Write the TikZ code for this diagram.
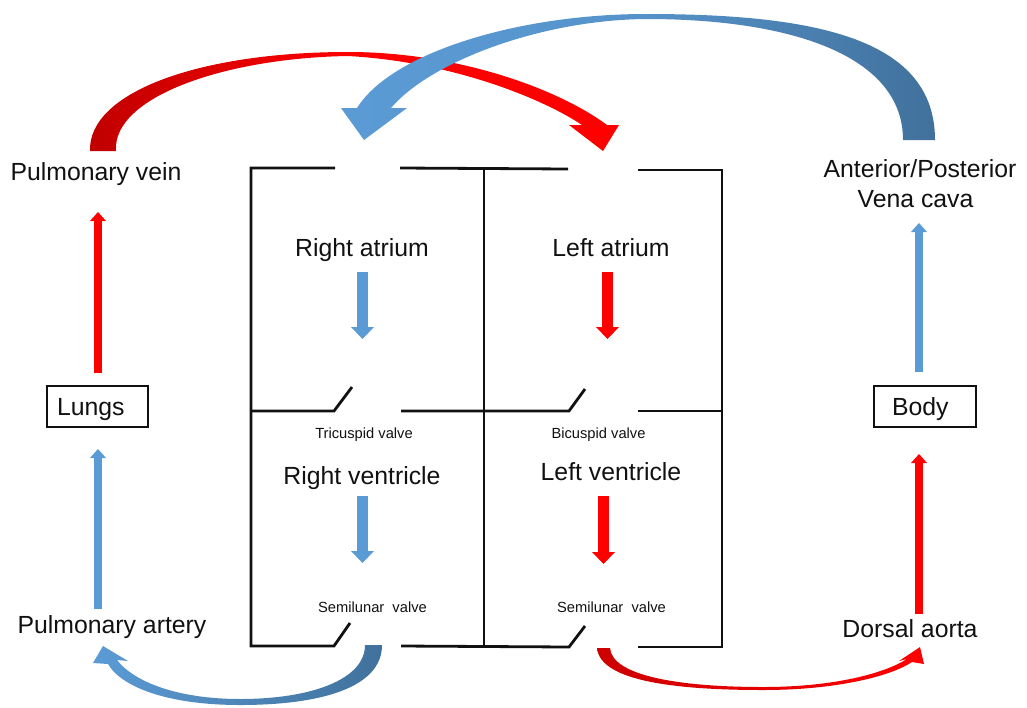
\documentclass[tikz,border=0pt]{standalone}
\usepackage{fontspec}
\setmainfont{Liberation Sans}
\usetikzlibrary{arrows.meta}
\definecolor{bL}{HTML}{5B9BD5}
\definecolor{bD}{HTML}{41719C}
\definecolor{rD}{HTML}{C00000}
\definecolor{rR}{HTML}{FF0000}
\definecolor{ink}{HTML}{111111}
\begin{document}
\begin{tikzpicture}[x=1pt,y=-1pt,
  big/.style={font=\fontsize{24.8}{28}\selectfont, inner sep=0pt, anchor=base, text=ink},
  small/.style={font=\fontsize{14.7}{17}\selectfont, inner sep=0pt, anchor=base, text=ink},
  boxnode/.style={draw=ink, line width=1.2pt, minimum height=41pt, inner ysep=0pt, align=left,
    text height=17.8pt, text depth=0pt, font=\fontsize{24.8}{28}\selectfont, text=ink},
  wall/.style={draw=ink, line width=2.8pt, line join=miter},
  outarrow/.style={line width=8pt, -{Triangle[width=16pt,length=9pt,line width=0pt]}},
  inarrow/.style={line width=11pt, -{Triangle[width=23pt,length=12pt,line width=0pt]}},
]
\useasboundingbox (0,0) rectangle (1027,707);

% ---- texts ----
\node[big] (pvein) at (96,180) {Pulmonary vein};
\node[big] (part) at (112,633) {Pulmonary artery};
\node[big] (ant) at (920,177) {Anterior/Posterior};
\node[big] (vcava) at (915.5,207) {Vena cava};
\node[big] (dorsal) at (910,637) {Dorsal aorta};
\node[boxnode, inner xsep=10pt, text width=81pt] (lungs) at (97.5,406.5) {Lungs};
\node[boxnode, inner xsep=18pt, text width=66pt] (body) at (925,406.5) {Body};
\node[big] (ratrium) at (362,256) {Right atrium};
\node[big] (latrium) at (611,256) {Left atrium};
\node[big] (rvent) at (362,484) {Right ventricle};
\node[big] (lvent) at (611,480) {Left ventricle};
\node[small] (tric) at (364,438) {Tricuspid valve};
\node[small] (bic) at (598.5,438) {Bicuspid valve};
\node[small] (semiL) at (372.5,612) {Semilunar~~valve};
\node[small] (semiR) at (611.5,612) {Semilunar~~valve};

% ---- heart walls ----
\draw[wall] (335,168) -- (251,168) -- (251,646) -- (334,646) -- (350,623);
\draw[wall] (400,168) -- (568,169);
\draw[wall] (484,168) -- (484,647);
\draw[wall] (638,170) -- (722,170) -- (722,647) -- (638,647);
\draw[wall] (401,646) -- (569,647) -- (585,626);
\draw[wall] (251,411) -- (334,411) -- (352,387);
\draw[wall] (401,411) -- (569,411) -- (585,389);
\draw[wall] (638,411) -- (722,411);

% ---- arrow end points ----
\coordinate (lungsTop) at (98,373);
\coordinate (pveinBot) at (98,212);
\coordinate (partTop) at (98,609);
\coordinate (lungsBot) at (98,449);
\coordinate (bodyTop) at (919,372);
\coordinate (vcavaBot) at (919,223);
\coordinate (dorsalTop) at (919,614);
\coordinate (bodyBot) at (919,454);
\coordinate (ra1) at (362.5,272);
\coordinate (ra2) at (362.5,339);
\coordinate (la1) at (607.5,272);
\coordinate (la2) at (607.5,339);
\coordinate (rv1) at (362.5,496);
\coordinate (rv2) at (362.5,563);
\coordinate (lv1) at (603.5,496);
\coordinate (lv2) at (603.5,564);

% ---- straight block arrows ----
\draw[outarrow, draw=rR] (lungsTop) -- (pveinBot);
\draw[outarrow, draw=bL] (partTop) -- (lungsBot);
\draw[outarrow, draw=bL] (bodyTop) -- (vcavaBot);
\draw[outarrow, draw=rR] (dorsalTop) -- (bodyBot);
\draw[inarrow, draw=bL] (ra1) -- (ra2);
\draw[inarrow, draw=rR] (la1) -- (la2);
\draw[inarrow, draw=bL] (rv1) -- (rv2);
\draw[inarrow, draw=rR] (lv1) -- (lv2);

% ---- curved arrows ----
% red: pulmonary vein -> left atrium
\shade[left color=rD, right color=rR, middle color=rR]
 (90,151) .. controls (88,92) and (200,52) .. (348,52)
 .. controls (460,52) and (560,90) .. (607,125)
 -- (619,125) -- (603,151) -- (569,125) -- (582,125)
 .. controls (545,100) and (455,62) .. (348,56)
 .. controls (225,58) and (112,97) .. (116,151) -- cycle;
% blue: vena cava -> right atrium
\shade[left color=bL, right color=bD, middle color=bL!80!bD]
 (935,140) .. controls (935,40) and (820,14) .. (646,14)
 .. controls (520,14) and (392,52) .. (357,108)
 -- (341,108) -- (364,140) -- (407,108) -- (391,108)
 .. controls (430,62) and (540,20) .. (646,19)
 .. controls (790,19) and (903,55) .. (903,140) -- cycle;
% blue: right ventricle -> pulmonary artery
\shade[left color=bL, right color=bD]
 (382,645) .. controls (382,688) and (320,705) .. (240,705)
 .. controls (170,705) and (122,688) .. (108,664)
 -- (93,663) -- (103,646) -- (128,661) -- (117,660)
 .. controls (135,683) and (180,699) .. (240,699)
 .. controls (310,699) and (365,680) .. (365,645) -- cycle;
% red: left ventricle -> dorsal aorta
\shade[left color=rR!80!black, right color=rR]
 (597,648) .. controls (600,682) and (680,690) .. (763,690)
 .. controls (840,690) and (893,675) .. (912,662)
 -- (924,664) -- (920,647) -- (899,661) -- (907,659)
 .. controls (885,673) and (835,687) .. (763,687)
 .. controls (680,687) and (612,676) .. (610,648) -- cycle;
\end{tikzpicture}
\end{document}
